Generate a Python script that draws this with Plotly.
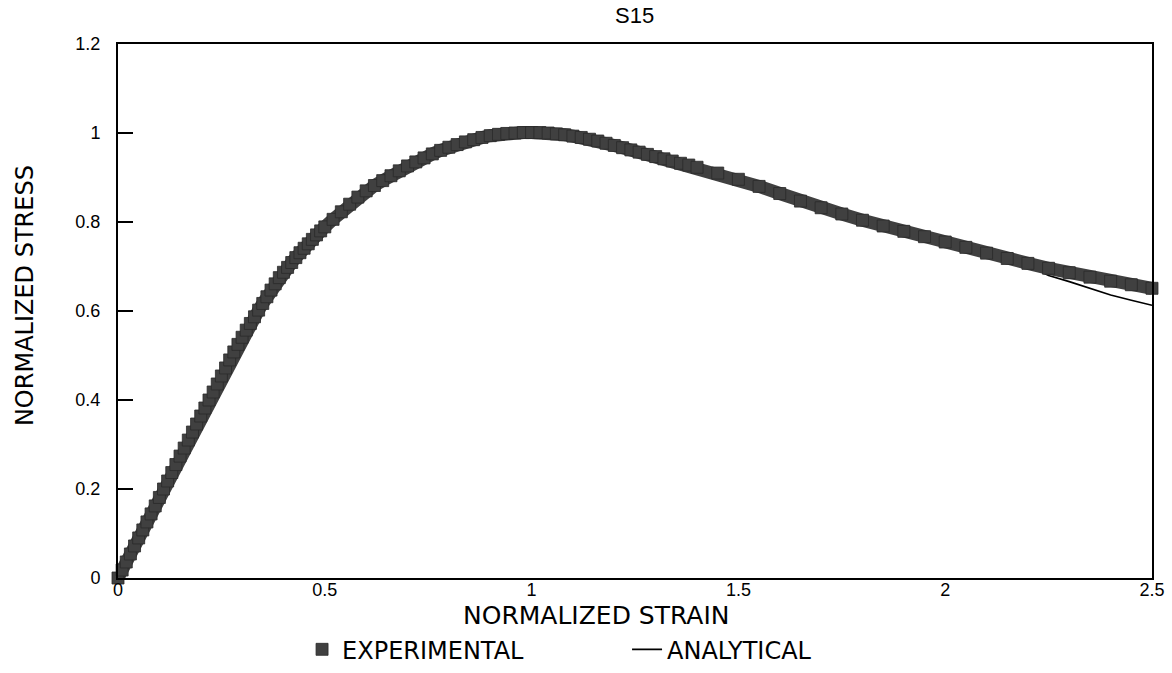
import plotly.graph_objects as go

# Experimental stress-strain record (normalized)
exp_strain = [0.00, 0.01, 0.02, 0.03, 0.04, 0.05, 0.06, 0.07, 0.08, 0.09,
              0.10, 0.11, 0.12, 0.13, 0.14, 0.15, 0.16, 0.17, 0.18, 0.19,
              0.20, 0.21, 0.22, 0.23, 0.24, 0.25, 0.26, 0.27, 0.28, 0.29,
              0.30, 0.31, 0.32, 0.33, 0.34, 0.35, 0.36, 0.37, 0.38, 0.39,
              0.40, 0.41, 0.42, 0.43, 0.44, 0.45, 0.46, 0.47, 0.48, 0.49,
              0.50, 0.52, 0.54, 0.56, 0.58, 0.60, 0.62, 0.64, 0.66, 0.68,
              0.70, 0.72, 0.74, 0.76, 0.78, 0.80, 0.82, 0.84, 0.86, 0.88,
              0.90, 0.92, 0.94, 0.96, 0.98, 1.00, 1.02, 1.04, 1.06, 1.08,
              1.10, 1.12, 1.14, 1.16, 1.18, 1.20, 1.22, 1.24, 1.26, 1.28,
              1.30, 1.32, 1.34, 1.36, 1.38, 1.40, 1.45, 1.50, 1.55, 1.60,
              1.65, 1.70, 1.75, 1.80, 1.85, 1.90, 1.95, 2.00, 2.05, 2.10,
              2.15, 2.20, 2.25, 2.30, 2.35, 2.40, 2.45, 2.50]
exp_stress = [0.000, 0.018, 0.036, 0.054, 0.072, 0.090, 0.108, 0.126, 0.144, 0.162,
              0.181, 0.200, 0.218, 0.237, 0.255, 0.274, 0.292, 0.310, 0.328, 0.346,
              0.364, 0.382, 0.400, 0.418, 0.436, 0.454, 0.472, 0.490, 0.508, 0.525,
              0.541, 0.557, 0.572, 0.587, 0.602, 0.617, 0.632, 0.647, 0.661, 0.675,
              0.687, 0.698, 0.709, 0.720, 0.731, 0.741, 0.751, 0.761, 0.771, 0.780,
              0.789, 0.806, 0.823, 0.840, 0.856, 0.870, 0.882, 0.893, 0.904, 0.915,
              0.926, 0.935, 0.944, 0.953, 0.961, 0.968, 0.974, 0.980, 0.985, 0.990,
              0.994, 0.997, 0.999, 1.000, 1.001, 1.001, 1.001, 1.000, 0.998, 0.996,
              0.993, 0.990, 0.986, 0.982, 0.977, 0.972, 0.967, 0.962, 0.957, 0.952,
              0.947, 0.942, 0.937, 0.932, 0.928, 0.923, 0.910, 0.896, 0.880, 0.864,
              0.847, 0.832, 0.818, 0.804, 0.791, 0.779, 0.767, 0.755, 0.743, 0.730,
              0.718, 0.707, 0.696, 0.686, 0.676, 0.667, 0.659, 0.651]

# Analytical model prediction (normalized)
ana_strain = [0.00, 0.05, 0.10, 0.15, 0.20, 0.25, 0.30, 0.35, 0.40, 0.45,
              0.50, 0.60, 0.70, 0.80, 0.90, 1.00, 1.10, 1.20, 1.30, 1.40,
              1.50, 1.60, 1.70, 1.80, 1.90, 2.00, 2.10, 2.20, 2.25, 2.30,
              2.35, 2.40, 2.45, 2.50]
ana_stress = [0.000, 0.090, 0.181, 0.274, 0.364, 0.454, 0.541, 0.617, 0.687, 0.741,
              0.789, 0.870, 0.926, 0.968, 0.994, 1.001, 0.993, 0.972, 0.947, 0.923,
              0.896, 0.864, 0.832, 0.804, 0.779, 0.755, 0.730, 0.702, 0.680, 0.666,
              0.651, 0.636, 0.624, 0.613]

x_ticks = [0, 0.5, 1, 1.5, 2, 2.5]
x_tick_text = ["0", "0.5", "1", "1.5", "2", "2.5"]
y_ticks = [0, 0.2, 0.4, 0.6, 0.8, 1, 1.2]
y_tick_text = ["0", "0.2", "0.4", "0.6", "0.8", "1", "1.2"]

WIDE = "DejaVu Sans, Verdana, sans-serif"
PLAIN = "Liberation Sans, Arial, sans-serif"
BAND = "#404040"

fig = go.Figure()

# model curve sits underneath the measured band
fig.add_trace(go.Scatter(
    x=ana_strain, y=ana_stress, mode="lines", name="ANALYTICAL",
    line=dict(color="black", width=1.6),
))

# measured data: a continuous band plus the square markers
fig.add_trace(go.Scatter(
    x=exp_strain, y=exp_stress, mode="lines", showlegend=False,
    legendgroup="exp", line=dict(color=BAND, width=13),
    cliponaxis=False, hoverinfo="skip",
))
fig.add_trace(go.Scatter(
    x=exp_strain, y=exp_stress, mode="markers", name="EXPERIMENTAL",
    legendgroup="exp",
    marker=dict(symbol="square", size=12, color=BAND,
                line=dict(color="#2a2a2a", width=0.8)),
    cliponaxis=False,
))

fig.update_layout(
    width=1172, height=673,
    margin=dict(l=118, r=20, t=44, b=95, autoexpand=False),
    paper_bgcolor="white", plot_bgcolor="white",
    title=dict(text="S15", x=0.5415, xanchor="center", y=0.978, yanchor="middle",
               font=dict(family=PLAIN, size=22, color="black")),
    font=dict(family=PLAIN, color="black"),
    xaxis=dict(range=[0, 2.5], tickvals=x_ticks, ticktext=x_tick_text,
               ticks="", showgrid=False, zeroline=False,
               showline=True, linecolor="black", linewidth=2, mirror=True,
               tickfont=dict(family=PLAIN, size=18), ticklabelstandoff=-6),
    yaxis=dict(range=[0, 1.2], tickvals=y_ticks, ticktext=y_tick_text,
               ticks="inside", ticklen=15, tickwidth=2, tickcolor="black",
               showgrid=False, zeroline=False,
               showline=True, linecolor="black", linewidth=2, mirror=True,
               tickfont=dict(family=PLAIN, size=18), ticklabelstandoff=12),
    legend=dict(orientation="h", x=0.178, y=0.068, xref="paper", yref="container",
                xanchor="left", yanchor="top",
                traceorder="reversed", font=dict(family=WIDE, size=24),
                entrywidth=280, itemwidth=30, bgcolor="rgba(0,0,0,0)"),
    annotations=[
        dict(text="NORMALIZED STRAIN", xref="paper", yref="paper",
             x=0.463, y=-0.07, xanchor="center", yanchor="middle",
             showarrow=False, font=dict(family=WIDE, size=25)),
        dict(text="NORMALIZED STRESS", xref="paper", yref="paper",
             x=-0.0899, y=0.528, xanchor="center", yanchor="middle",
             textangle=-90, showarrow=False,
             font=dict(family=WIDE, size=24)),
    ],
)

fig.write_html("out.html")
